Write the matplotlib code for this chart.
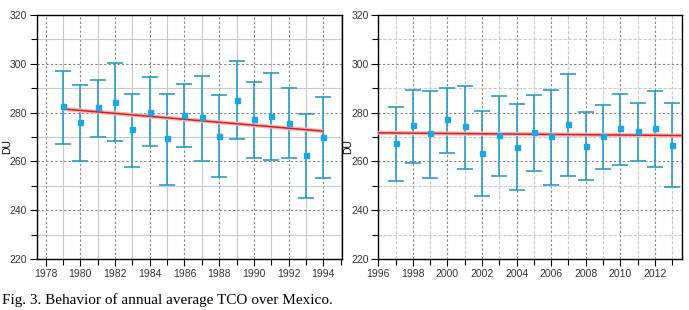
import matplotlib.pyplot as plt
from matplotlib.ticker import MultipleLocator

# Left panel: 1979-1994 (mean, lower and upper end of error bar)
years_a = list(range(1979, 1995))
mean_a = [282.6, 276.2, 282.1, 284.5, 273.1, 280.4, 269.4, 279.2,
          278.0, 270.6, 285.3, 277.2, 278.7, 275.8, 262.7, 270.2]
low_a = [267.3, 260.1, 270.1, 268.5, 257.8, 266.4, 250.5, 266.0,
         260.0, 253.7, 269.0, 261.6, 260.7, 261.6, 245.2, 253.3]
high_a = [297.2, 291.5, 293.5, 300.5, 287.8, 294.4, 287.8, 291.9,
          295.2, 287.4, 301.3, 292.4, 296.1, 289.9, 279.6, 286.6]
trend_x_a = [1979, 1994]
trend_y_a = [281.5, 272.4]

# Right panel: 1997-2013
years_b = list(range(1997, 2014))
mean_b = [267.4, 275.0, 271.6, 277.2, 274.4, 263.4, 270.9, 266.1, 272.1,
          270.4, 275.4, 266.4, 270.5, 273.8, 272.5, 273.8, 266.9]
low_b = [252.1, 259.5, 253.3, 263.5, 257.0, 246.0, 254.1, 248.3, 256.2,
         250.5, 254.1, 252.5, 257.0, 258.6, 260.3, 257.8, 249.7]
high_b = [282.3, 289.2, 288.8, 290.0, 290.7, 280.8, 286.8, 283.5, 287.2,
          289.2, 295.7, 280.3, 283.1, 287.6, 284.1, 289.0, 284.1]
trend_x_b = [1996, 2013.55]
trend_y_b = [271.7, 270.6]

caption = "Fig. 3. Behavior of annual average TCO over Mexico."

plt.rcParams['font.family'] = ['Liberation Sans', 'DejaVu Sans']
fig = plt.figure(figsize=(6.89, 3.10), dpi=100)
ax1 = fig.add_axes([0.0537, 0.1645, 0.4427, 0.7871])
ax2 = fig.add_axes([0.549, 0.1645, 0.4404, 0.7871])


def draw(ax, yrs, mean, low, high, tx, ty, xlim, minor_ls):
    err = [[m - l for m, l in zip(mean, low)], [h - m for m, h in zip(mean, high)]]
    ax.errorbar(yrs, mean, yerr=err, fmt='none', ecolor='#2a9dc8',
                elinewidth=1.2, capsize=5.5, capthick=1.2, zorder=3)
    ax.plot(tx, ty, color='#f4b8b8', lw=3, zorder=4, solid_capstyle='butt')
    ax.plot(tx, ty, color='#d42020', lw=1.1, zorder=5)
    ax.plot(yrs, mean, 's', color='#19a8e2', ms=3.6, zorder=6)
    ax.set_xlim(*xlim)
    ax.set_ylim(220, 320)
    ax.xaxis.set_major_locator(MultipleLocator(2))
    ax.xaxis.set_minor_locator(MultipleLocator(1))
    ax.yaxis.set_major_locator(MultipleLocator(20))
    ax.yaxis.set_minor_locator(MultipleLocator(10))
    ax.grid(which='major', color='#808080', lw=0.8, ls=(0, (2, 2)))
    ax.grid(which='minor', color='#c8c8c8', lw=0.8, ls=minor_ls)
    ax.set_axisbelow(True)
    ax.tick_params(which='both', direction='out', labelsize=7.5,
                   labelcolor='#333333', width=0.8)
    ax.tick_params(which='major', length=5, pad=2)
    ax.tick_params(which='minor', length=4)
    for s in ax.spines.values():
        s.set_linewidth(1.0)
    ax.set_ylabel('DU', fontsize=7.5)
    ax.yaxis.set_label_coords(-0.082, 0.46)


draw(ax1, years_a, mean_a, low_a, high_a, trend_x_a, trend_y_a,
     (1977.5, 1995.08), '-')
draw(ax2, years_b, mean_b, low_b, high_b, trend_x_b, trend_y_b,
     (1996, 2013.55), (0, (3, 1.5)))

fig.text(0.003, 0.02, caption, fontsize=11,
         family=['Liberation Serif', 'DejaVu Serif'])

fig.savefig('out.png', dpi=100)
